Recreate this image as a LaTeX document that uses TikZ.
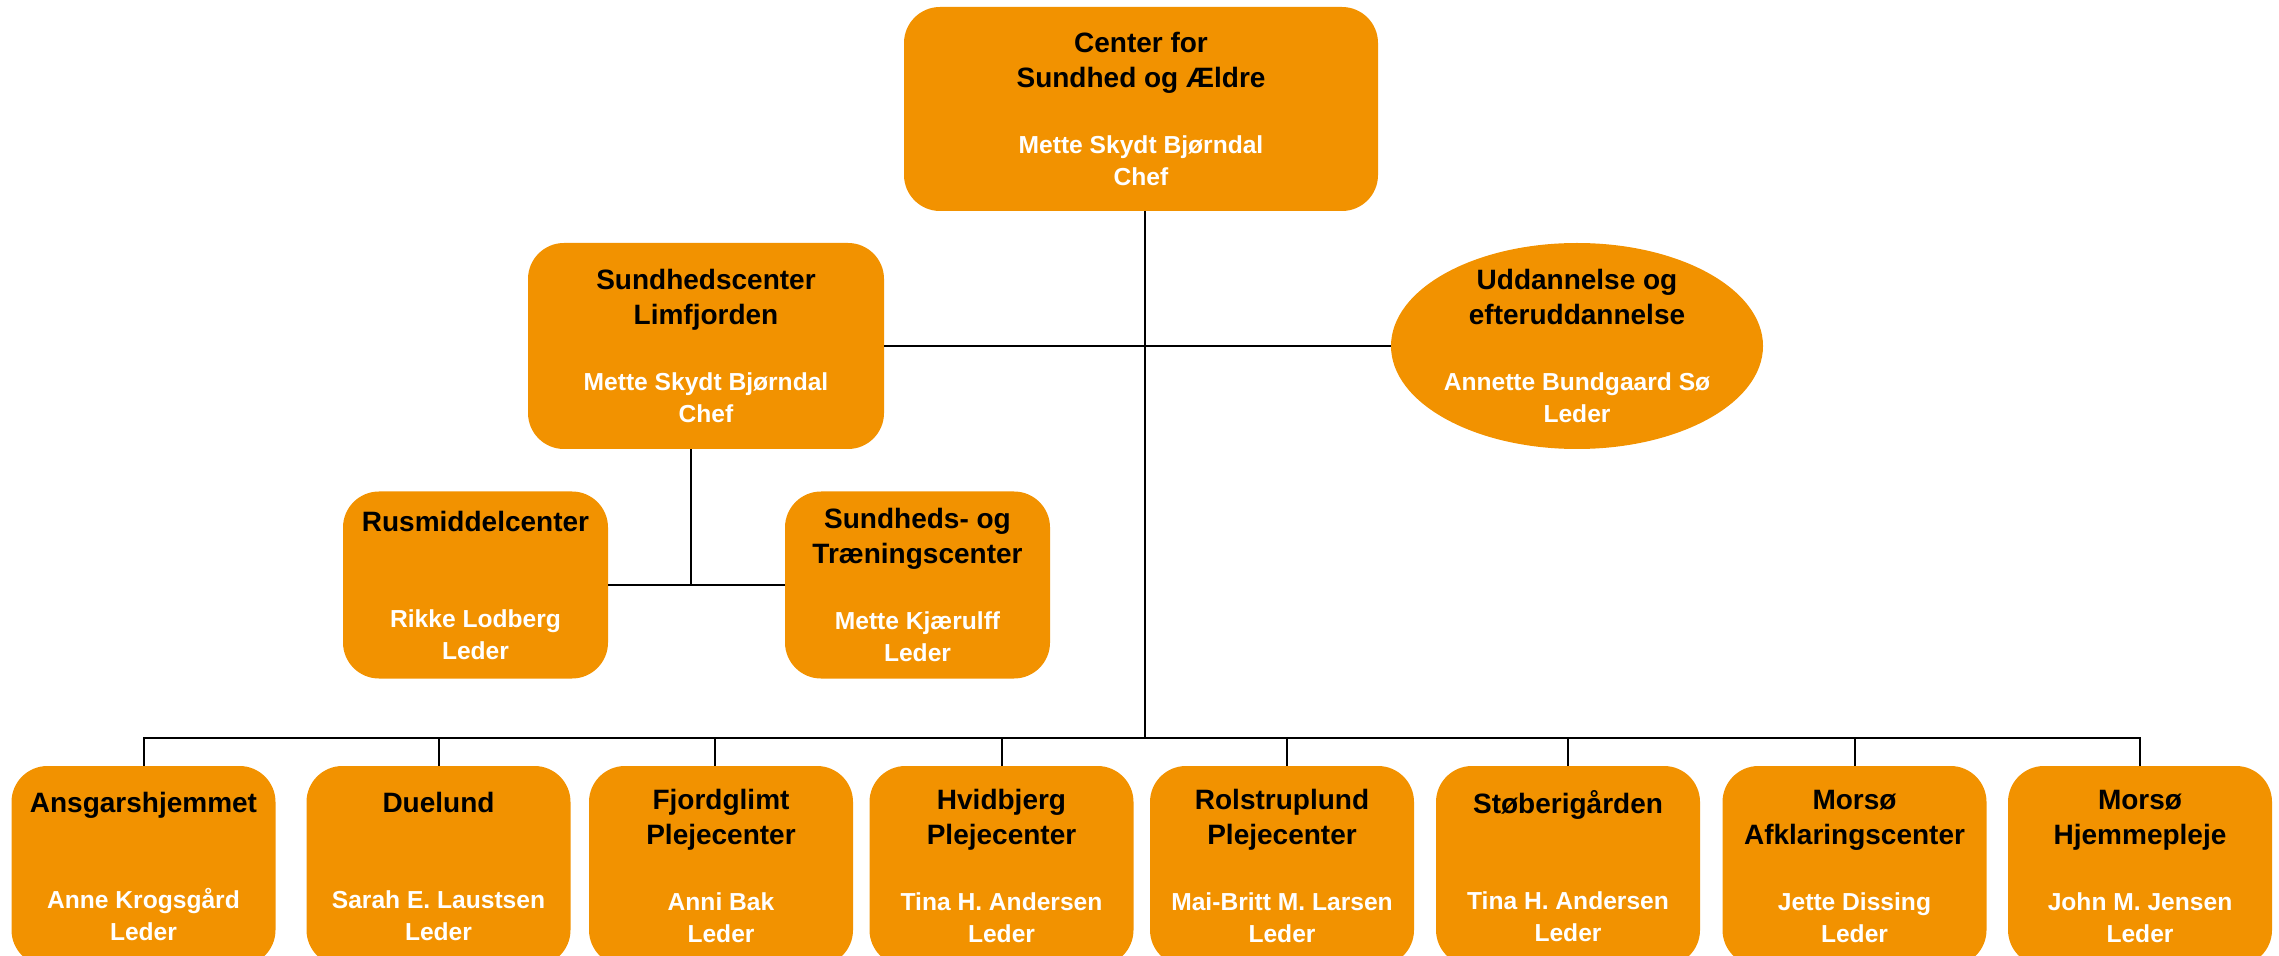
\documentclass[tikz,border=0pt]{standalone}
\usepackage{fontspec}
\setmainfont{Liberation Sans}
\usetikzlibrary{shapes.geometric}
\definecolor{orgfill}{HTML}{F29200}
\newcommand{\boxtitle}[1]{{\fontsize{14}{16}\selectfont\color{black}#1}}
\begin{document}
\begin{tikzpicture}[x=0.5pt,y=-0.5pt,
  unit/.style={fill=orgfill, rounded corners=18pt, align=center, text=white,
    font=\fontsize{12.3}{16}\selectfont\bfseries, inner sep=0pt},
  ovalunit/.style={ellipse, fill=orgfill, align=center, text=white,
    font=\fontsize{12.3}{16}\selectfont\bfseries, inner sep=-2pt},
  lowunit/.style={unit, minimum width=132pt, minimum height=100pt},
  conn/.style={draw=black, line width=1pt}]
\useasboundingbox (0,0) rectangle (2279,956);
\clip (0,0) rectangle (2279,956);

\node[unit, minimum width=237pt, minimum height=102pt] (top) at (1141,109)
  {\boxtitle{Center for}\\[1.5pt]\boxtitle{Sundhed og Ældre}\\[17pt]Mette Skydt Bjørndal\\Chef};
\node[unit, minimum width=178pt, minimum height=103pt] (lim) at (706,346)
  {\boxtitle{Sundhedscenter}\\[1.5pt]\boxtitle{Limfjorden}\\[17pt]Mette Skydt Bjørndal\\Chef};
\node[ovalunit, minimum width=186pt, minimum height=103pt] (udd) at (1577,346)
  {\boxtitle{Uddannelse og}\\[1.5pt]\boxtitle{efteruddannelse}\\[17pt]Annette Bundgaard Sø\\Leder};
\node[unit, minimum width=132.5pt, minimum height=93.5pt] (rus) at (475.5,585)
  {\boxtitle{Rusmiddelcenter}\\[32pt]Rikke Lodberg\\Leder};
\node[unit, minimum width=132.5pt, minimum height=93.5pt] (sund) at (917.5,585)
  {\boxtitle{Sundheds- og}\\[1.5pt]\boxtitle{Træningscenter}\\[17pt]Mette Kjærulff\\Leder};

\node[lowunit] (b1) at (143.5,866) {\boxtitle{Ansgarshjemmet}\\[32pt]Anne Krogsgård\\Leder};
\node[lowunit] (b2) at (438.5,866) {\boxtitle{Duelund}\\[32pt]Sarah E. Laustsen\\Leder};
\node[lowunit] (b3) at (721,866) {\boxtitle{Fjordglimt}\\[1.5pt]\boxtitle{Plejecenter}\\[17pt]Anni Bak\\Leder};
\node[lowunit] (b4) at (1001.5,866) {\boxtitle{Hvidbjerg}\\[1.5pt]\boxtitle{Plejecenter}\\[17pt]Tina H. Andersen\\Leder};
\node[lowunit] (b5) at (1282,866) {\boxtitle{Rolstruplund}\\[1.5pt]\boxtitle{Plejecenter}\\[17pt]Mai-Britt M. Larsen\\Leder};
\node[lowunit] (b6) at (1568,866) {\boxtitle{Støberigården}\\[32pt]Tina H. Andersen\\Leder};
\node[lowunit] (b7) at (1854.5,866) {\boxtitle{Morsø}\\[1.5pt]\boxtitle{Afklaringscenter}\\[17pt]Jette Dissing\\Leder};
\node[lowunit] (b8) at (2140,866) {\boxtitle{Morsø}\\[1.5pt]\boxtitle{Hjemmepleje}\\[17pt]John M. Jensen\\Leder};

\coordinate (busL) at (144,738);
\draw[conn] ([xshift=2pt]top.south) -- ([xshift=2pt]top.south |- busL);
\draw[conn] (lim.east) -- (udd.west);
\draw[conn] ([xshift=-7.5pt]lim.south) -- ([xshift=-7.5pt]lim.south |- rus.east);
\draw[conn] (rus.east) -- (sund.west);
\draw[conn] (b1.north) -- (b1.north |- busL) -- (b8.north |- busL) -- (b8.north);
\draw[conn] (b2.north) -- (b2.north |- busL);
\draw[conn] ([xshift=-3pt]b3.north) -- ([xshift=-3pt]b3.north |- busL);
\draw[conn] (b4.north) -- (b4.north |- busL);
\draw[conn] ([xshift=2.5pt]b5.north) -- ([xshift=2.5pt]b5.north |- busL);
\draw[conn] (b6.north) -- (b6.north |- busL);
\draw[conn] (b7.north) -- (b7.north |- busL);
\end{tikzpicture}
\end{document}
